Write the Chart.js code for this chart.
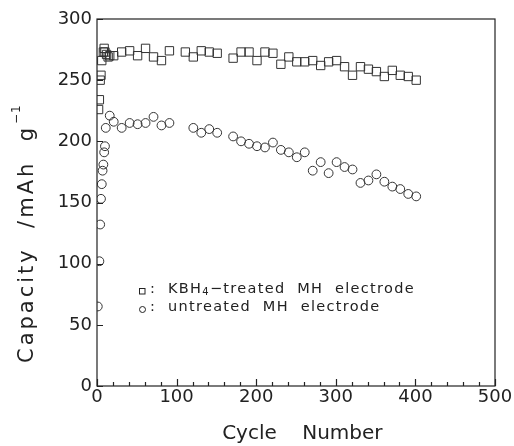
<!DOCTYPE html>
<html>
<head>
<meta charset="utf-8">
<script src="https://cdn.jsdelivr.net/npm/chart.js@4.4.0/dist/chart.umd.min.js"></script>
<style>
  html, body { margin: 0; padding: 0; background: #fff; }
</style>
</head>
<body>
<canvas id="chart" width="514" height="446"></canvas>
<script>
// Cycle life data
const treatedCycles = [2, 3, 4, 5, 6, 8, 9, 10, 12, 14, 16, 21, 31, 41, 51, 61, 71, 81, 91, 111, 121, 131, 141, 151,
  171, 181, 191, 201, 211, 221, 231, 241, 251, 261, 271, 281, 291, 301, 311, 321, 331, 341, 351, 361, 371, 381, 391, 401];
const treatedCapacity = [226, 234, 250, 254, 266, 273, 276, 273, 271, 269, 270, 270, 273, 274, 270, 276, 269, 266, 274, 273, 269, 274, 273, 272,
  268, 273, 273, 266, 273, 272, 263, 269, 265, 265, 266, 262, 265, 266, 261, 254, 261, 259, 257, 253, 258, 254, 253, 250];

const untreatedCycles = [1, 3, 4, 5, 6, 7, 8, 9, 10, 11, 16, 21, 31, 41, 51, 61, 71, 81, 91, 121, 131, 141, 151,
  171, 181, 191, 201, 211, 221, 231, 241, 251, 261, 271, 281, 291, 301, 311, 321, 331, 341, 351, 361, 371, 381, 391, 401];
const untreatedCapacity = [65, 102, 132, 153, 165, 176, 181, 191, 196, 211, 221, 216, 211, 215, 214, 215, 220, 213, 215, 211, 207, 210, 207,
  204, 200, 198, 196, 195, 199, 193, 191, 187, 191, 176, 183, 174, 183, 179, 177, 166, 168, 173, 167, 163, 161, 157, 155];

const xTicks = [0, 100, 200, 300, 400, 500];
const yTicks = [0, 50, 100, 150, 200, 250, 300];

const FONT = 'DejaVu Sans';
const INK = '#222';

function toPoints(xs, ys) {
    return xs.map((x, i) => ({ x: x, y: ys[i] }));
}

// Box frame plus inward tick marks
const framePlugin = {
    id: 'frame',
    afterDraw(chart) {
        const { ctx, chartArea: a, scales: { x, y } } = chart;
        ctx.save();
        ctx.strokeStyle = INK;
        ctx.lineWidth = 1.2;
        ctx.strokeRect(a.left, a.top, a.right - a.left, a.bottom - a.top);
        ctx.beginPath();
        for (let v = x.min; v <= x.max; v += 20) {
            const px = Math.round(x.getPixelForValue(v)) + 0.5;
            const len = v % 100 === 0 ? 7 : 4;
            ctx.moveTo(px, a.bottom);
            ctx.lineTo(px, a.bottom - len);
        }
        yTicks.forEach(v => {
            const py = Math.round(y.getPixelForValue(v)) + 0.5;
            ctx.moveTo(a.left, py);
            ctx.lineTo(a.left + 6, py);
        });
        ctx.stroke();
        ctx.restore();
    }
};

// Rotated y title with superscript unit
const yTitlePlugin = {
    id: 'yTitle',
    afterDraw(chart) {
        const { ctx, chartArea: a } = chart;
        ctx.save();
        ctx.translate(33, a.bottom - 23);
        ctx.rotate(-Math.PI / 2);
        ctx.fillStyle = INK;
        ctx.textAlign = 'left';
        ctx.textBaseline = 'alphabetic';
        ctx.letterSpacing = '3px';
        ctx.font = '21px "' + FONT + '"';
        const main = 'Capacity  /mAh  g';
        ctx.fillText(main, 0, 0);
        const w = ctx.measureText(main).width;
        ctx.letterSpacing = '1px';
        ctx.font = '12px "' + FONT + '"';
        ctx.fillText('\u22121', w + 1, -13);
        ctx.restore();
    }
};

// In-plot legend with subscript text
const legendPlugin = {
    id: 'inlineLegend',
    afterDraw(chart) {
        const { ctx, chartArea: a } = chart;
        const mx = a.left + 45;
        const tx = a.left + 71;
        const y1 = a.top + 274;
        const y2 = a.top + 292;
        ctx.save();
        ctx.strokeStyle = INK;
        ctx.fillStyle = INK;
        ctx.lineWidth = 1;
        ctx.strokeRect(mx - 2.5, y1 - 4.5, 5.5, 5.5);
        ctx.beginPath();
        ctx.arc(mx + 0.5, y2 - 1.5, 3, 0, Math.PI * 2);
        ctx.stroke();
        ctx.textBaseline = 'alphabetic';
        ctx.letterSpacing = '1.3px';
        ctx.font = '14.5px "' + FONT + '"';
        ctx.fillText(':', mx + 8, y1);
        ctx.fillText(':', mx + 8, y2);
        let x = tx;
        ctx.fillText('KBH', x, y1);
        x += ctx.measureText('KBH').width;
        ctx.font = '10px "' + FONT + '"';
        ctx.fillText('4', x, y1 + 2);
        x += ctx.measureText('4').width;
        ctx.font = '14.5px "' + FONT + '"';
        ctx.fillText('\u2212treated  MH  electrode', x, y1);
        ctx.fillText('untreated  MH  electrode', tx, y2);
        ctx.restore();
    }
};

const config = {
    type: 'scatter',
    data: {
        datasets: [{
            label: 'KBH4-treated MH electrode',
            data: toPoints(treatedCycles, treatedCapacity),
            pointStyle: 'rect',
            pointRadius: 5.9,
            borderColor: '#333',
            backgroundColor: 'rgba(0,0,0,0)',
            borderWidth: 1
        }, {
            label: 'untreated MH electrode',
            data: toPoints(untreatedCycles, untreatedCapacity),
            pointStyle: 'circle',
            pointRadius: 4.4,
            borderColor: '#333',
            backgroundColor: 'rgba(0,0,0,0)',
            borderWidth: 1
        }]
    },
    options: {
        responsive: false,
        animation: false,
        layout: { padding: { left: 0, right: 19, top: 19, bottom: 0 } },
        plugins: {
            legend: { display: false },
            tooltip: { enabled: false }
        },
        scales: {
            x: {
                type: 'linear',
                min: 0,
                max: 500,
                afterBuildTicks: s => { s.ticks = xTicks.map(v => ({ value: v })); },
                afterFit: s => { s.height = 60; },
                grid: { display: false, drawTicks: false },
                border: { display: false },
                ticks: { color: INK, padding: 1, maxRotation: 0, font: { family: FONT, size: 18 } },
                title: {
                    display: true,
                    text: '  Cycle    Number',
                    color: INK,
                    font: { family: FONT, size: 20 },
                    padding: { top: 0, bottom: 0 }
                }
            },
            y: {
                type: 'linear',
                min: 0,
                max: 300,
                afterBuildTicks: s => { s.ticks = yTicks.map(v => ({ value: v })); },
                afterFit: s => { s.width = 97; },
                grid: { display: false, drawTicks: false },
                border: { display: false },
                ticks: { color: INK, padding: 5, font: { family: FONT, size: 18 } },
                title: { display: false }
            }
        }
    },
    plugins: [framePlugin, yTitlePlugin, legendPlugin]
};

window.capacityChart = new Chart(document.getElementById('chart'), config);
</script>
</body>
</html>
